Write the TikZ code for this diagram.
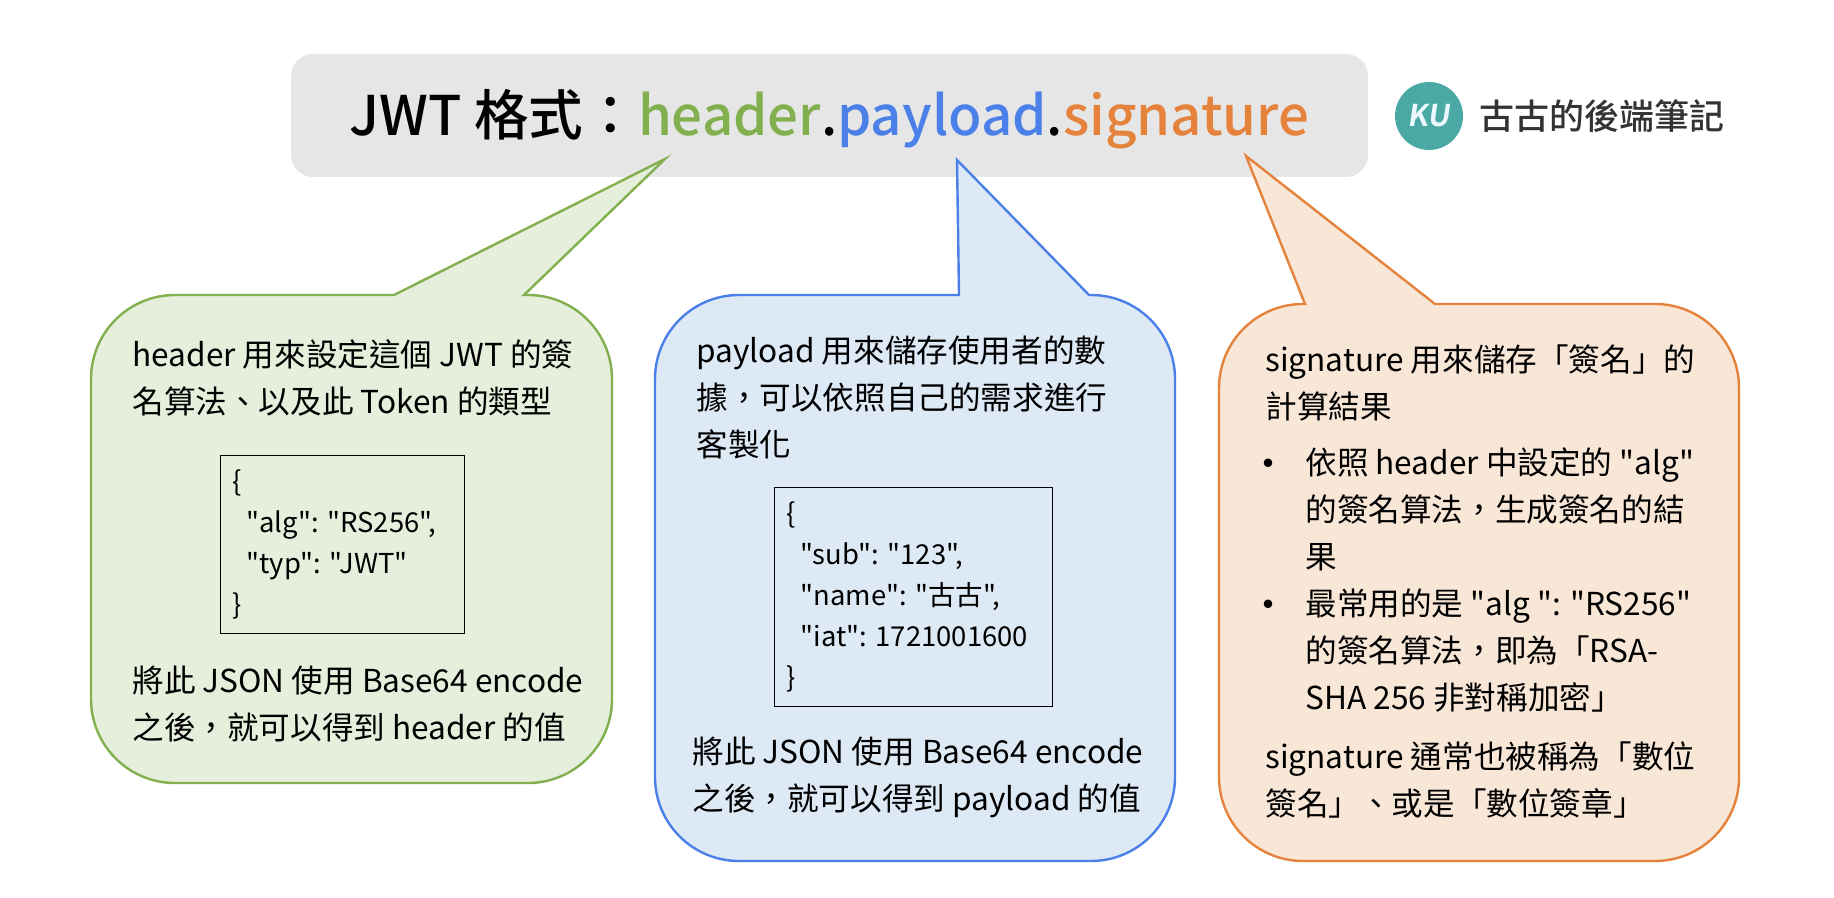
\documentclass[tikz,border=0pt]{standalone}
\usepackage{fontspec}
\setmainfont[Ligatures=TeXOff]{Noto Sans CJK TC}
\newfontfamily\midfont[Ligatures=TeXOff]{Noto Sans CJK TC Medium}
\newfontfamily\kufont[FakeSlant=0.15]{Noto Sans CJK TC Bold}
\usetikzlibrary{positioning}
\definecolor{hdrline}{HTML}{82B04F}
\definecolor{hdrfill}{HTML}{E6EEDC}
\definecolor{payline}{HTML}{4A80E8}
\definecolor{payfill}{HTML}{DEE9F6}
\definecolor{sigline}{HTML}{E5833D}
\definecolor{sigfill}{HTML}{F8E6D7}
\definecolor{titlegray}{HTML}{E6E6E6}
\definecolor{logoteal}{HTML}{4AA9A4}
\definecolor{logotext}{HTML}{333333}
\def\bul{\llap{\raisebox{-2pt}{\fontsize{20}{20}\selectfont\textbullet}\hspace{8.3pt}}}
\def\gap{\hspace{4.4pt}}
\tikzset{
	bubble/.style={line width=1.2pt, line join=miter, rounded corners=42pt},
	bodytext/.style={inner sep=0pt, align=left, anchor=north west, font=\fontsize{15.8}{23.5}\selectfont},
	codebox/.style={draw, black, line width=0.5pt, inner sep=0pt, align=left, font=\fontsize{13.7}{20.5}\selectfont}
}

\begin{document}
\begin{tikzpicture}[x=0.5pt, y=-0.5pt]
		\useasboundingbox (0,0) rectangle (1834,898);
		
		% Title
		\node[fill=titlegray, rounded corners=11pt, minimum width=538.5pt, minimum height=61.5pt, inner sep=0pt, text height=26pt, text depth=6pt, font=\fontsize{27.3}{30}\midfont] (title) at (829.5,115.5) {%
			JWT 格式：\textcolor{hdrline}{header}.\textcolor{payline}{payload}.\textcolor{sigline}{signature}};
		
		% Logo
		\node[circle, fill=logoteal, minimum size=34pt, inner sep=0pt, text=cyan!8, font=\fontsize{15}{15}\kufont] (logo) at (1429,116) {KU};
		\node[right=8pt of logo, inner sep=0pt, text=logotext, font=\fontsize{17.5}{20}\midfont] (blog) {古古的後端筆記};
		
		% Bubbles
		\draw[bubble, draw=hdrline, fill=hdrfill] (394,295) -- (91,295) -- (91,783) -- (612,783) -- (612,295) [sharp corners] -- (524,295) -- (665,159) -- cycle;
		\draw[bubble, draw=payline, fill=payfill] (959,295) -- (655,295) -- (655,861) -- (1175,861) -- (1175,295) [sharp corners] -- (1089,295) -- (957,160) -- cycle;
		\draw[bubble, draw=sigline, fill=sigfill] (1305,304) -- (1219,304) -- (1219,861) -- (1739,861) -- (1739,304) [sharp corners] -- (1435,304) -- (1246,156) -- cycle;
		
		% Header text
		\node[bodytext] (hdrtop) at (132,339) {header 用來設定這個 JWT 的簽\\名算法、以及此 Token 的類型};
		\node[codebox, text width=122pt, minimum height=89pt, below right=19pt and 44pt of hdrtop.south west] (hdrcode) {%
			\hspace{6pt}\{\\
			\hspace{13pt}"alg":\gap"RS256",\\
			\hspace{13pt}"typ":\gap"JWT"\\
			\hspace{6pt}\}};
		\node[bodytext, below right=16.2pt and -44pt of hdrcode.south west] (hdrend) {將此 JSON 使用 Base64 encode\\之後，就可以得到 header 的值};
		
		% Payload text
		\node[bodytext] (paytop) at (696,335) {payload 用來儲存使用者的數\\據，可以依照自己的需求進行\\客製化};
		\node[codebox, text width=139pt, minimum height=109.5pt, below right=14pt and 39pt of paytop.south west] (paycode) {%
			\hspace{6pt}\{\\
			\hspace{13pt}"sub":\gap"123",\\
			\hspace{13pt}"name":\gap"古古",\\
			\hspace{13pt}"iat":\gap 1721001600\\
			\hspace{6pt}\}};
		\node[bodytext, below right=14.5pt and -41pt of paycode.south west] (payend) {將此 JSON 使用 Base64 encode\\之後，就可以得到 payload 的值};
		
		% Signature text
		\node[bodytext] (sigtop) at (1265,344.5) {signature 用來儲存「簽名」的\\計算結果};
		\node[bodytext, below right=12.6pt and 20pt of sigtop.south west] (siglist) {%
			\bul 依照 header 中設定的 "alg"\\
			的簽名算法，生成簽名的結\\
			果\\
			\bul 最常用的是 "alg ": "RS256"\\
			的簽名算法，即為「RSA-\\
			SHA 256 非對稱加密」};
		\node[bodytext, below right=14.5pt and -20pt of siglist.south west] (sigend) {signature 通常也被稱為「數位\\簽名」、或是「數位簽章」};
		
\end{tikzpicture}
\end{document}
